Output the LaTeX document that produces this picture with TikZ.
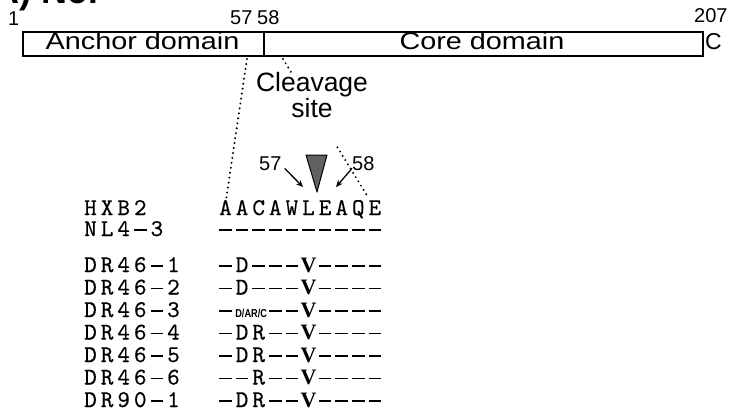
\documentclass[tikz,border=0pt]{standalone}
\usepackage{fontspec}
\setmainfont{Liberation Sans}
\newfontfamily\vfont{Liberation Serif}
\newfontfamily\seqfont[FakeBold=0.4]{lmmono10-regular.otf}
\usetikzlibrary{arrows.meta,calc}
\newlength\pitch
\setlength\pitch{16.6pt}
\newcommand\cellbox[1]{\makebox[\pitch]{#1}}
\newcommand\dsh{\rule[5.5pt]{12.5pt}{1.5pt}}
\newcommand\Vb{{\vfont\bfseries\fontsize{22}{24}\selectfont V}}
\newcommand\Mix{\makebox[2\pitch]{\hfill\scalebox{0.8}[1]{\rmfamily\bfseries\fontsize{11.5}{11.5}\selectfont D/AR/C}\hspace{0pt}}}
\makeatletter
\def\mseq#1{\mseq@a#1\mseq@end}
\def\mseq@end{\mseq@end}
\def\mseq@a#1{\ifx\mseq@end#1\else\ifx-#1\cellbox{\dsh}\else\cellbox{#1}\fi\expandafter\mseq@a\fi}
\makeatother
\tikzset{
  seqtxt/.style={inner sep=0pt, anchor=base west, font=\fontsize{24}{26}\seqfont},
  numtxt/.style={inner sep=0pt, anchor=base west, font=\fontsize{20}{24}\selectfont},
  bigtxt/.style={inner sep=0pt, font=\fontsize{26.5}{25}\selectfont},
  boxtxt/.style={inner sep=0pt, anchor=base, font=\fontsize{24}{24}\selectfont, xscale=1.2, transform shape},
  domainbox/.style={draw, line width=2.2pt, inner sep=0pt, minimum height=24pt, anchor=north west},
  dotline/.style={line width=2.2pt, line cap=round, dash pattern=on 0pt off 5pt},
  arr/.style={line width=1.3pt, -{Stealth[length=7pt,width=6pt]}},
}
\begin{document}
\begin{tikzpicture}[x=1pt, y=-1pt]
\useasboundingbox (0,0) rectangle (733,420);
\clip (0,0) rectangle (733,420);
% clipped title
\node[inner sep=0pt, anchor=base east, font=\fontsize{36}{36}\selectfont\bfseries] (title) at (100,4) {A) Nef};
% numbers
\node[numtxt] (n1) at (8,26) {1};
\node[numtxt] (n57a) at (230,25) {57};
\node[numtxt] (n58a) at (257,25) {58};
\node[numtxt] (n207) at (694,23) {207};
% domain boxes
\node[domainbox, minimum width=241pt] (anchor) at (22,31) {};
\node[domainbox, minimum width=439pt] (core) at (263,31) {};
\node[boxtxt] at (142.5,49.5) (anchortxt) {Anchor domain};
\node[boxtxt] at (482,49.5) (coretxt) {Core domain};
\node[inner sep=0pt, anchor=base west, font=\fontsize{23}{24}\selectfont] (cterm) at (705,50) {C};
% dotted expansion lines
\coordinate (dl1) at (247,59);
\coordinate (dl2) at (226,200);
\coordinate (dr1) at (283,59);
\coordinate (dr2) at (368,197);
\draw[dotline] (dl1) -- (dl2);
\draw[dotline] (dr1) -- ($(dr1)!0.12!(dr2)$);
\draw[dotline] ($(dr1)!0.64!(dr2)$) -- (dr2);
% cleavage site label
\node[bigtxt, align=center, anchor=base] (cleave) at (312,117) {Cleavage\\site};
% triangle
\coordinate (t1) at (306,155);
\coordinate (t2) at (327,155);
\coordinate (t3) at (317,192);
\filldraw[fill=black!62, draw=black, line width=1pt, line join=round] (t1) -- (t2) -- (t3) -- cycle;
% 57 / 58 pointers
\node[numtxt] (n57b) at (259,170) {57};
\node[numtxt] (n58b) at (352,170) {58};
\coordinate (a57) at (303,187);
\coordinate (a58) at (336,187);
\draw[arr] (n57b.south east) ++(3,-2) -- (a57);
\draw[arr] (n58b.south west) ++(0,-2) -- (a58);
% labels
\node[seqtxt] (lhxb) at (82,215) {\mseq{HXB2}};
\node[seqtxt] (lnl) at (82,236) {\mseq{NL4-3}};
\node[seqtxt] (l1) at (82,272) {\mseq{DR46-1}};
\node[seqtxt] (l2) at (82,294.5) {\mseq{DR46-2}};
\node[seqtxt] (l3) at (82,317) {\mseq{DR46-3}};
\node[seqtxt] (l4) at (82,339.5) {\mseq{DR46-4}};
\node[seqtxt] (l5) at (82,362) {\mseq{DR46-5}};
\node[seqtxt] (l6) at (82,384.5) {\mseq{DR46-6}};
\node[seqtxt] (l7) at (82,407) {\mseq{DR90-1}};
% sequences
\node[seqtxt] (shxb) at (217,215) {\mseq{AACAWLEAQE}};
\node[seqtxt] (snl) at (217,236) {\mseq{----------}};
\node[seqtxt] (s1) at (217,272) {\mseq{-D---\Vb----}};
\node[seqtxt] (s2) at (217,294.5) {\mseq{-D---\Vb----}};
\node[seqtxt] (s3) at (217,317) {\mseq{-}\Mix\mseq{--\Vb----}};
\node[seqtxt] (s4) at (217,339.5) {\mseq{-DR--\Vb----}};
\node[seqtxt] (s5) at (217,362) {\mseq{-DR--\Vb----}};
\node[seqtxt] (s6) at (217,384.5) {\mseq{--R--\Vb----}};
\node[seqtxt] (s7) at (217,407) {\mseq{-DR--\Vb----}};
\end{tikzpicture}
\end{document}
